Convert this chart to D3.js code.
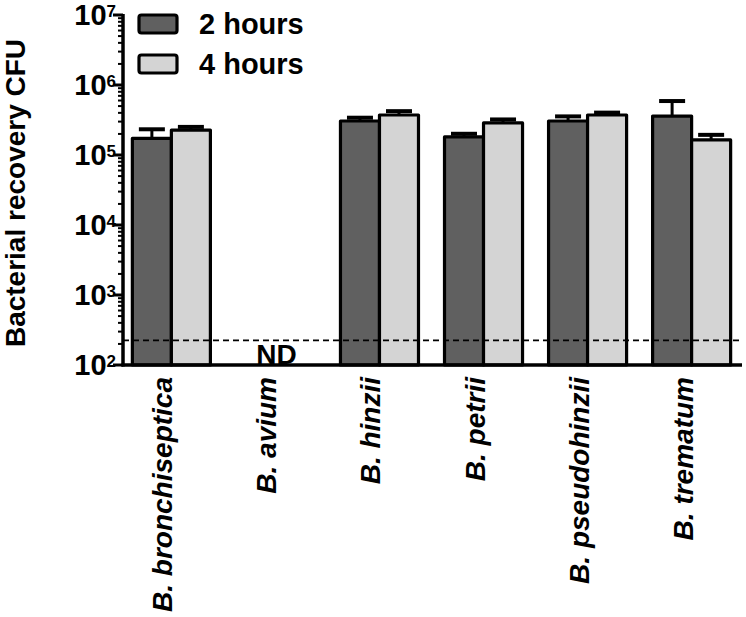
<!DOCTYPE html>
<html>
<head>
<meta charset="utf-8">
<script src="https://cdn.jsdelivr.net/npm/d3@7"></script>
<style>
  html, body { margin: 0; padding: 0; background: #fff; }
  svg { display: block; }
  text { font-family: "Liberation Sans", Arial, Helvetica, sans-serif; font-weight: bold; fill: #000; }
</style>
</head>
<body>
<svg id="chart" width="746" height="617"></svg>
<script>
// ---- data ----
const categories = ["B. bronchiseptica", "B. avium", "B. hinzii", "B. petrii", "B. pseudohinzii", "B. trematum"];
const series = ["2 hours", "4 hours"];
const values2h = [1.73e5, null, 3.06e5, 1.81e5, 3.06e5, 3.6e5];
const errors2h = [0.6e5, null, 0.35e5, 0.2e5, 0.5e5, 2.3e5];
const values4h = [2.27e5, null, 3.73e5, 2.87e5, 3.73e5, 1.64e5];
const errors4h = [0.25e5, null, 0.5e5, 0.35e5, 0.3e5, 0.3e5];
const yTickExponents = [2, 3, 4, 5, 6, 7];
const detectionLimit = 225;
const notDetectedLabel = "ND";
const yAxisTitle = "Bacterial recovery CFU";

const colors = ["#606060", "#d4d4d4"];

const svg = d3.select("#chart");
const axisX = 123, axisRight = 742;

const y = d3.scaleLog().domain([1e2, 1e7]).range([365, 15]);
const x = d3.scaleBand().domain(categories).range([123, 740]).paddingInner(0.25).paddingOuter(0.09);
const xs = d3.scaleBand().domain(series).range([0, x.bandwidth()]).padding(0);

const rows = categories.map((c, i) => ({
  cat: c,
  bars: [
    { s: series[0], v: values2h[i], e: errors2h[i] },
    { s: series[1], v: values4h[i], e: errors4h[i] }
  ]
}));

// error bars
const gErr = svg.append("g");
rows.forEach(r => {
  r.bars.forEach(b => {
    if (b.v == null) return;
    const cx = x(r.cat) + xs(b.s) + xs.bandwidth() / 2;
    gErr.append("line").attr("x1", cx).attr("x2", cx)
      .attr("y1", y(b.v)).attr("y2", y(b.v + b.e))
      .attr("stroke", "#000").attr("stroke-width", 3);
    gErr.append("line").attr("x1", cx - 13).attr("x2", cx + 13)
      .attr("y1", y(b.v + b.e)).attr("y2", y(b.v + b.e))
      .attr("stroke", "#000").attr("stroke-width", 4);
  });
});

// bars
const gBars = svg.append("g");
rows.forEach(r => {
  r.bars.forEach((b, j) => {
    if (b.v == null) return;
    gBars.append("rect")
      .attr("x", x(r.cat) + xs(b.s))
      .attr("y", y(b.v))
      .attr("width", xs.bandwidth())
      .attr("height", y(1e2) - y(b.v))
      .attr("fill", colors[j])
      .attr("stroke", "#000")
      .attr("stroke-width", 3.2)
      .attr("stroke-linejoin", "round");
  });
});

// detection limit dashed line
svg.append("line")
  .attr("x1", axisX).attr("x2", axisRight)
  .attr("y1", y(detectionLimit)).attr("y2", y(detectionLimit))
  .attr("stroke", "#000").attr("stroke-width", 1.8)
  .attr("stroke-dasharray", "6,4");

// ND label
svg.append("text")
  .attr("x", x("B. avium") + x.bandwidth() / 2 + 1)
  .attr("y", y(1e2) - 1)
  .attr("text-anchor", "middle")
  .style("font-size", "28px")
  .text(notDetectedLabel);

// y axis: minor ticks
const minor = [];
for (let e = 2; e < 7; e++) for (let m = 2; m <= 9; m++) minor.push(m * Math.pow(10, e));
svg.append("g").selectAll("line").data(minor).join("line")
  .attr("x1", axisX - 5).attr("x2", axisX)
  .attr("y1", d => y(d)).attr("y2", d => y(d))
  .attr("stroke", "#000").attr("stroke-width", 2);

// y axis major ticks and labels
const gY = svg.append("g");
yTickExponents.forEach(e => {
  const ty = y(Math.pow(10, e));
  gY.append("line").attr("x1", axisX - 10).attr("x2", axisX)
    .attr("y1", ty).attr("y2", ty).attr("stroke", "#000").attr("stroke-width", 3);
  const t = gY.append("text")
    .attr("x", 116).attr("y", ty + 10)
    .attr("text-anchor", "end")
    .style("font-size", "29px");
  t.append("tspan").text("10");
  t.append("tspan").attr("dy", -8).style("font-size", "17px").text(String(e));
});

// axis lines
svg.append("line").attr("x1", axisX).attr("x2", axisX)
  .attr("y1", y(1e7) - 1).attr("y2", y(1e2) + 1.5)
  .attr("stroke", "#000").attr("stroke-width", 3.5);
svg.append("line").attr("x1", axisX - 1.5).attr("x2", axisRight)
  .attr("y1", y(1e2)).attr("y2", y(1e2))
  .attr("stroke", "#000").attr("stroke-width", 3.5);

// y axis title
svg.append("text")
  .attr("transform", "translate(25," + 193 + ") rotate(-90)")
  .attr("text-anchor", "middle")
  .style("font-size", "28px")
  .text(yAxisTitle);

// x category labels
svg.append("g").selectAll("text").data(categories).join("text")
  .attr("transform", d => "translate(" + (x(d) + x.bandwidth() / 2 + 1) + ",377) rotate(-90)")
  .attr("text-anchor", "end")
  .style("font-size", "28px")
  .style("font-style", "italic")
  .text(d => d);

// legend
const gL = svg.append("g");
series.forEach((s, i) => {
  const ly = 14 + i * 40;
  gL.append("rect").attr("x", 139).attr("y", ly + 1)
    .attr("width", 38).attr("height", 18).attr("rx", 2.5)
    .attr("fill", colors[i]).attr("stroke", "#000").attr("stroke-width", 3.2);
  gL.append("text").attr("x", 199).attr("y", ly + 20)
    .style("font-size", "29px").text(s);
});
</script>
</body>
</html>
